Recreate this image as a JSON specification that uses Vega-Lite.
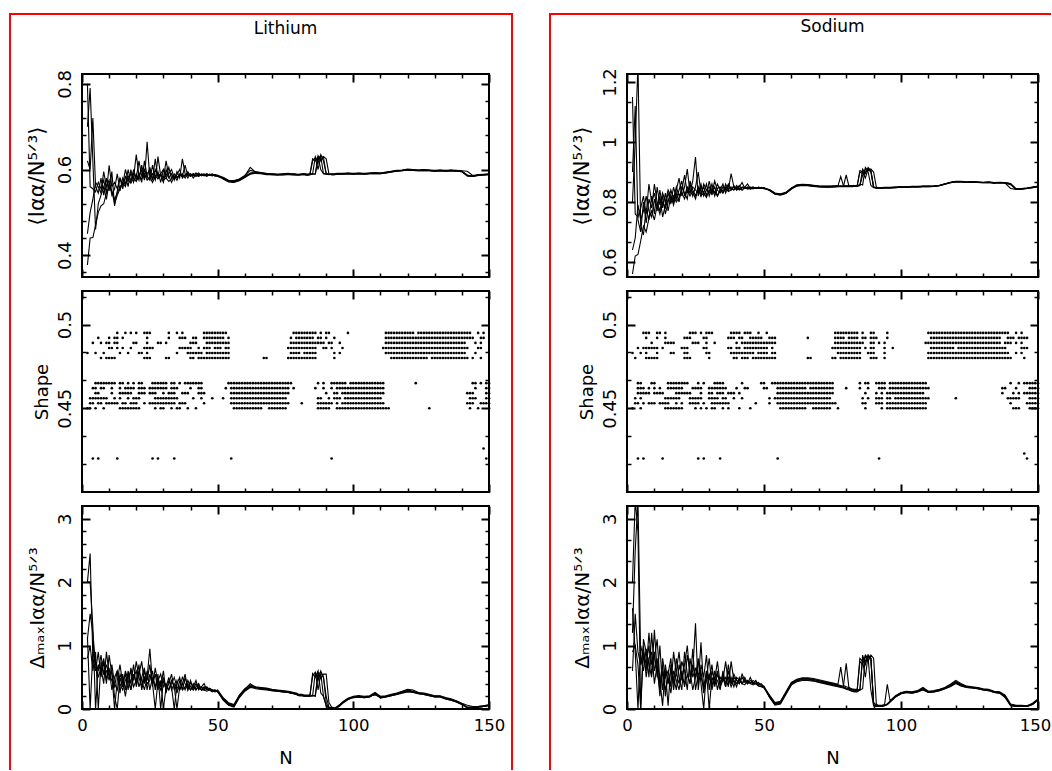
{
"$schema":"https://vega.github.io/schema/vega-lite/v6.json",
"padding":{"left":7,"top":11,"right":0,"bottom":0},
"background":"white",
"config":{
"font":"DejaVu Sans",
"view":{"stroke":"black","strokeWidth":2},
"axis":{"domain":false,"grid":false,"labels":false,"ticks":true,"tickSize":-8,"tickWidth":2,"tickColor":"black","labelFont":"DejaVu Sans","labelFontSize":18,"labelColor":"black","titleFont":"DejaVu Sans","titleFontSize":21,"titleFontWeight":"normal","titleColor":"black","labelFlush":false},
"axisLeft":{"labelAngle":-90,"labelAlign":"center","labelBaseline":"bottom","labelPadding":8},
"axisBottom":{"labelPadding":8,"labelFontSize":16.5},
"title":{"fontSize":17,"fontWeight":"normal","font":"DejaVu Sans","color":"black"}
},
"datasets":{
"li":[
{"N":2,"a":0.377,"b":0.8,"c":0.7,"d":0.62,"e":0.45,"p":1.14,"q":2,"r":2,"s":1.1,"t":0.8},
{"N":3,"a":0.44,"b":0.56,"c":0.79,"d":0.6,"e":0.5,"p":0,"q":2.45,"r":2,"s":1.5,"t":1},
{"N":4,"a":0.441,"b":0.555,"c":0.62,"d":0.72,"e":0.53,"p":0.9,"q":0.8,"r":1.3,"s":1.2,"t":0.6},
{"N":5,"a":0.47,"b":0.548,"c":0.46,"d":0.56,"e":0.57,"p":0.75,"q":0.6,"r":0,"s":0.7,"t":0.9},
{"N":6,"a":0.5,"b":0.57,"c":0.52,"d":0.545,"e":0.56,"p":0.6,"q":0.9,"r":0.7,"s":0.5,"t":0},
{"N":7,"a":0.515,"b":0.555,"c":0.54,"d":0.58,"e":0.545,"p":0.85,"q":0.5,"r":0.6,"s":0.65,"t":0.75},
{"N":8,"a":0.52,"b":0.575,"c":0.56,"d":0.54,"e":0.595,"p":0.55,"q":0.75,"r":0.8,"s":0.4,"t":0.55},
{"N":9,"a":0.545,"b":0.545,"c":0.53,"d":0.58,"e":0.56,"p":0.7,"q":0.4,"r":0.45,"s":0.9,"t":0.6},
{"N":10,"a":0.56,"b":0.61,"c":0.57,"d":0.55,"e":0.575,"p":0.5,"q":0.85,"r":0.65,"s":0.55,"t":0.45},
{"N":11,"a":0.548,"b":0.56,"c":0.55,"d":0.595,"e":0.54,"p":0.6,"q":0.55,"r":0.3,"s":0.45,"t":0.7},
{"N":12,"a":0.53,"b":0.57,"c":0.52,"d":0.515,"e":0.555,"p":0.2,"q":0,"r":0.5,"s":0.35,"t":0.4},
{"N":13,"a":0.545,"b":0.555,"c":0.54,"d":0.55,"e":0.59,"p":0,"q":0.45,"r":0.6,"s":0.6,"t":0.3},
{"N":14,"a":0.56,"b":0.58,"c":0.555,"d":0.58,"e":0.55,"p":0.5,"q":0.7,"r":0.25,"s":0.4,"t":0.55},
{"N":15,"a":0.565,"b":0.565,"c":0.57,"d":0.555,"e":0.58,"p":0.35,"q":0.4,"r":0.55,"s":0.3,"t":0.45},
{"N":16,"a":0.57,"b":0.6,"c":0.56,"d":0.585,"e":0.565,"p":0.6,"q":0.55,"r":0.3,"s":0.45,"t":0.2},
{"N":17,"a":0.575,"b":0.575,"c":0.585,"d":0.56,"e":0.6,"p":0.45,"q":0.3,"r":0.6,"s":0.55,"t":0.5},
{"N":18,"a":0.568,"b":0.59,"c":0.575,"d":0.6,"e":0.57,"p":0.3,"q":0.65,"r":0.4,"s":0.3,"t":0.6},
{"N":19,"a":0.58,"b":0.58,"c":0.59,"d":0.57,"e":0.6,"p":0.55,"q":0.45,"r":0.7,"s":0.5,"t":0.35},
{"N":20,"a":0.572,"b":0.635,"c":0.58,"d":0.59,"e":0.575,"p":0.4,"q":0.75,"r":0.35,"s":0.6,"t":0.45},
{"N":21,"a":0.585,"b":0.585,"c":0.62,"d":0.575,"e":0.59,"p":0.6,"q":0.5,"r":0.55,"s":0.35,"t":0.7},
{"N":22,"a":0.578,"b":0.6,"c":0.585,"d":0.61,"e":0.57,"p":0.45,"q":0.35,"r":0.75,"s":0.5,"t":0.3},
{"N":23,"a":0.59,"b":0.575,"c":0.6,"d":0.58,"e":0.62,"p":0.3,"q":0.6,"r":0.4,"s":0.65,"t":0.5},
{"N":24,"a":0.575,"b":0.665,"c":0.58,"d":0.59,"e":0.585,"p":0.5,"q":0.45,"r":0.6,"s":0.3,"t":0.4},
{"N":25,"a":0.582,"b":0.58,"c":0.605,"d":0.6,"e":0.575,"p":0.95,"q":0.7,"r":0.3,"s":0.55,"t":0.45},
{"N":26,"a":0.57,"b":0.59,"c":0.575,"d":0.575,"e":0.61,"p":0.4,"q":0.35,"r":0.5,"s":0.4,"t":0.6},
{"N":27,"a":0.585,"b":0.575,"c":0.6,"d":0.625,"e":0.58,"p":0.55,"q":0.65,"r":0.35,"s":0,"t":0.3},
{"N":28,"a":0.578,"b":0.63,"c":0.585,"d":0.58,"e":0.595,"p":0.3,"q":0.4,"r":0.55,"s":0.45,"t":0.5},
{"N":29,"a":0.588,"b":0.585,"c":0.59,"d":0.59,"e":0.57,"p":0.45,"q":0.3,"r":0,"s":0.55,"t":0.35},
{"N":30,"a":0.575,"b":0.57,"c":0.58,"d":0.6,"e":0.6,"p":0,"q":0.5,"r":0.45,"s":0.35,"t":0.6},
{"N":31,"a":0.58,"b":0.6,"c":0.62,"d":0.58,"e":0.585,"p":0.35,"q":0.3,"r":0.35,"s":0.4,"t":0.25},
{"N":32,"a":0.572,"b":0.58,"c":0.585,"d":0.59,"e":0.605,"p":0.5,"q":0.4,"r":0.3,"s":0.3,"t":0.45},
{"N":33,"a":0.578,"b":0.59,"c":0.57,"d":0.6,"e":0.58,"p":0.3,"q":0.55,"r":0.45,"s":0.4,"t":0.35},
{"N":34,"a":0.585,"b":0.575,"c":0.585,"d":0.58,"e":0.59,"p":0.4,"q":0.3,"r":0.35,"s":0.5,"t":0},
{"N":35,"a":0.58,"b":0.595,"c":0.575,"d":0.588,"e":0.583,"p":0.25,"q":0.45,"r":0,"s":0.35,"t":0.4},
{"N":36,"a":0.588,"b":0.58,"c":0.59,"d":0.6,"e":0.585,"p":0.45,"q":0.3,"r":0.35,"s":0.3,"t":0.5},
{"N":37,"a":0.583,"b":0.625,"c":0.585,"d":0.58,"e":0.59,"p":0.3,"q":0.4,"r":0.5,"s":0.4,"t":0.3},
{"N":38,"a":0.586,"b":0.59,"c":0.61,"d":0.588,"e":0.58,"p":0.5,"q":0.55,"r":0.4,"s":0.3,"t":0.35},
{"N":39,"a":0.59,"b":0.58,"c":0.585,"d":0.592,"e":0.595,"p":0.35,"q":0.3,"r":0.3,"s":0.45,"t":0.4},
{"N":40,"a":0.584,"b":0.59,"c":0.59,"d":0.585,"e":0.585,"p":0.3,"q":0.42,"r":0.45,"s":0.35,"t":0.3},
{"N":41,"a":0.588,"b":0.585,"c":0.58,"d":0.59,"e":0.59,"p":0.4,"q":0.35,"r":0.3,"s":0.3,"t":0.35},
{"N":42,"a":0.585,"b":0.592,"c":0.588,"d":0.584,"e":0.586,"p":0.3,"q":0.45,"r":0.35,"s":0.4,"t":0.3},
{"N":43,"a":0.587,"b":0.584,"c":0.592,"d":0.589,"e":0.584,"p":0.38,"q":0.3,"r":0.4,"s":0.32,"t":0.35},
{"N":44,"a":0.589,"b":0.588,"c":0.585,"d":0.587,"e":0.59,"p":0.3,"q":0.35,"r":0.3,"s":0.35,"t":0.3},
{"N":45,"a":0.586,"b":0.59,"c":0.588,"d":0.585,"e":0.587,"p":0.35,"q":0.4,"r":0.32,"s":0.3,"t":0.3},
{"N":46,"a":0.588,"b":0.585,"c":0.59,"d":0.59,"e":0.584,"p":0.32,"q":0.3,"r":0.35,"s":0.33,"t":0.28},
{"N":47,"a":0.586,"b":0.589,"c":0.586,"d":0.587,"e":0.588,"p":0.3,"q":0.33,"r":0.3,"s":0.32,"t":0.3},
{"N":48,"a":0.587,"b":0.586,"c":0.588,"d":0.585,"e":0.59,"p":0.28,"q":0.3,"r":0.3,"s":0.3,"t":0.27},
{"N":49,"a":0.585,"b":0.588,"c":0.585,"d":0.588,"e":0.586,"p":0.3,"q":0.28,"r":0.27,"s":0.3,"t":0.29},
{"N":50,"a":0.584,"b":0.586,"c":0.587,"d":0.585,"e":0.585,"p":0.27,"q":0.3,"r":0.28,"s":0.28,"t":0.27},
{"N":52,"a":0.58,"b":0.582,"c":0.579,"d":0.581,"e":0.578,"p":0.16,"q":0.18,"r":0.14,"s":0.17,"t":0.15},
{"N":54,"a":0.573,"b":0.575,"c":0.572,"d":0.574,"e":0.571,"p":0.08,"q":0.1,"r":0.06,"s":0.09,"t":0.07},
{"N":56,"a":0.572,"b":0.574,"c":0.571,"d":0.573,"e":0.57,"p":0.05,"q":0.07,"r":0.03,"s":0.06,"t":0.04},
{"N":58,"a":0.577,"b":0.578,"c":0.575,"d":0.576,"e":0.574,"p":0.2,"q":0.22,"r":0.18,"s":0.21,"t":0.19},
{"N":60,"a":0.584,"b":0.586,"c":0.582,"d":0.585,"e":0.581,"p":0.3,"q":0.32,"r":0.28,"s":0.31,"t":0.29},
{"N":62,"a":0.592,"b":0.598,"c":0.589,"d":0.605,"e":0.59,"p":0.36,"q":0.38,"r":0.34,"s":0.4,"t":0.35},
{"N":64,"a":0.594,"b":0.595,"c":0.592,"d":0.593,"e":0.591,"p":0.34,"q":0.35,"r":0.33,"s":0.34,"t":0.32},
{"N":66,"a":0.592,"b":0.593,"c":0.591,"d":0.592,"e":0.59,"p":0.33,"q":0.34,"r":0.32,"s":0.33,"t":0.31},
{"N":68,"a":0.59,"b":0.591,"c":0.589,"d":0.59,"e":0.588,"p":0.32,"q":0.33,"r":0.31,"s":0.32,"t":0.3},
{"N":70,"a":0.589,"b":0.59,"c":0.588,"d":0.59,"e":0.588,"p":0.3,"q":0.31,"r":0.29,"s":0.3,"t":0.29},
{"N":72,"a":0.588,"b":0.589,"c":0.587,"d":0.589,"e":0.587,"p":0.29,"q":0.3,"r":0.28,"s":0.29,"t":0.28},
{"N":74,"a":0.589,"b":0.59,"c":0.588,"d":0.589,"e":0.587,"p":0.28,"q":0.29,"r":0.27,"s":0.28,"t":0.27},
{"N":76,"a":0.59,"b":0.591,"c":0.589,"d":0.59,"e":0.588,"p":0.27,"q":0.28,"r":0.26,"s":0.27,"t":0.26},
{"N":77,"a":0.589,"b":0.59,"c":0.588,"d":0.589,"e":0.588,"p":0.26,"q":0.27,"r":0.25,"s":0.26,"t":0.25},
{"N":78,"a":0.589,"b":0.59,"c":0.588,"d":0.59,"e":0.587,"p":0.25,"q":0.26,"r":0.24,"s":0.25,"t":0.24},
{"N":79,"a":0.588,"b":0.589,"c":0.587,"d":0.589,"e":0.587,"p":0.24,"q":0.25,"r":0.23,"s":0.24,"t":0.23},
{"N":80,"a":0.588,"b":0.589,"c":0.587,"d":0.588,"e":0.587,"p":0.22,"q":0.23,"r":0.21,"s":0.22,"t":0.21},
{"N":81,"a":0.589,"b":0.59,"c":0.588,"d":0.589,"e":0.588,"p":0.22,"q":0.23,"r":0.21,"s":0.22,"t":0.21},
{"N":82,"a":0.589,"b":0.59,"c":0.588,"d":0.59,"e":0.588,"p":0.21,"q":0.22,"r":0.2,"s":0.21,"t":0.2},
{"N":83,"a":0.588,"b":0.589,"c":0.587,"d":0.589,"e":0.587,"p":0.21,"q":0.22,"r":0.2,"s":0.21,"t":0.2},
{"N":84,"a":0.589,"b":0.59,"c":0.588,"d":0.589,"e":0.588,"p":0.21,"q":0.22,"r":0.2,"s":0.21,"t":0.2},
{"N":85,"a":0.625,"b":0.59,"c":0.589,"d":0.62,"e":0.59,"p":0.56,"q":0.21,"r":0.21,"s":0.52,"t":0.21},
{"N":86,"a":0.62,"b":0.63,"c":0.59,"d":0.628,"e":0.589,"p":0.5,"q":0.58,"r":0.22,"s":0.58,"t":0.2},
{"N":87,"a":0.63,"b":0.615,"c":0.632,"d":0.6,"e":0.625,"p":0.6,"q":0.45,"r":0.57,"s":0.3,"t":0.55},
{"N":88,"a":0.6,"b":0.635,"c":0.62,"d":0.63,"e":0.632,"p":0.25,"q":0.6,"r":0.48,"s":0.56,"t":0.58},
{"N":89,"a":0.59,"b":0.62,"c":0.63,"d":0.59,"e":0.628,"p":0.2,"q":0.5,"r":0.55,"s":0.2,"t":0.5},
{"N":90,"a":0.589,"b":0.59,"c":0.625,"d":0.59,"e":0.59,"p":0.05,"q":0.2,"r":0.55,"s":0.05,"t":0.1},
{"N":91,"a":0.589,"b":0.589,"c":0.59,"d":0.588,"e":0.589,"p":0.02,"q":0.03,"r":0.1,"s":0.02,"t":0.02},
{"N":92,"a":0.589,"b":0.59,"c":0.588,"d":0.589,"e":0.588,"p":0.01,"q":0.02,"r":0.03,"s":0.01,"t":0.02},
{"N":93,"a":0.589,"b":0.59,"c":0.588,"d":0.589,"e":0.588,"p":0,"q":0.01,"r":0.02,"s":0.01,"t":0},
{"N":94,"a":0.59,"b":0.591,"c":0.589,"d":0.59,"e":0.589,"p":0.03,"q":0.04,"r":0.02,"s":0.03,"t":0.02},
{"N":95,"a":0.59,"b":0.591,"c":0.589,"d":0.59,"e":0.589,"p":0.06,"q":0.07,"r":0.05,"s":0.06,"t":0.05},
{"N":96,"a":0.59,"b":0.591,"c":0.589,"d":0.59,"e":0.589,"p":0.1,"q":0.11,"r":0.09,"s":0.1,"t":0.09},
{"N":98,"a":0.591,"b":0.592,"c":0.59,"d":0.591,"e":0.59,"p":0.16,"q":0.17,"r":0.15,"s":0.16,"t":0.15},
{"N":100,"a":0.59,"b":0.591,"c":0.589,"d":0.59,"e":0.589,"p":0.19,"q":0.2,"r":0.18,"s":0.19,"t":0.18},
{"N":102,"a":0.591,"b":0.592,"c":0.59,"d":0.591,"e":0.59,"p":0.2,"q":0.21,"r":0.19,"s":0.2,"t":0.19},
{"N":104,"a":0.59,"b":0.591,"c":0.589,"d":0.59,"e":0.589,"p":0.19,"q":0.2,"r":0.18,"s":0.19,"t":0.18},
{"N":106,"a":0.591,"b":0.592,"c":0.59,"d":0.591,"e":0.59,"p":0.2,"q":0.21,"r":0.19,"s":0.2,"t":0.19},
{"N":108,"a":0.592,"b":0.593,"c":0.591,"d":0.592,"e":0.591,"p":0.25,"q":0.26,"r":0.24,"s":0.22,"t":0.24},
{"N":110,"a":0.591,"b":0.592,"c":0.59,"d":0.591,"e":0.59,"p":0.18,"q":0.2,"r":0.17,"s":0.19,"t":0.18},
{"N":112,"a":0.593,"b":0.594,"c":0.592,"d":0.593,"e":0.592,"p":0.2,"q":0.21,"r":0.19,"s":0.2,"t":0.19},
{"N":114,"a":0.595,"b":0.596,"c":0.594,"d":0.595,"e":0.594,"p":0.22,"q":0.23,"r":0.21,"s":0.22,"t":0.21},
{"N":116,"a":0.597,"b":0.598,"c":0.596,"d":0.597,"e":0.596,"p":0.24,"q":0.25,"r":0.23,"s":0.24,"t":0.23},
{"N":118,"a":0.598,"b":0.599,"c":0.597,"d":0.598,"e":0.597,"p":0.27,"q":0.28,"r":0.25,"s":0.27,"t":0.26},
{"N":120,"a":0.6,"b":0.601,"c":0.599,"d":0.6,"e":0.599,"p":0.3,"q":0.31,"r":0.27,"s":0.29,"t":0.28},
{"N":122,"a":0.599,"b":0.6,"c":0.598,"d":0.599,"e":0.598,"p":0.28,"q":0.3,"r":0.26,"s":0.27,"t":0.27},
{"N":124,"a":0.598,"b":0.599,"c":0.597,"d":0.598,"e":0.597,"p":0.25,"q":0.26,"r":0.24,"s":0.25,"t":0.24},
{"N":126,"a":0.599,"b":0.6,"c":0.598,"d":0.599,"e":0.598,"p":0.24,"q":0.25,"r":0.23,"s":0.24,"t":0.23},
{"N":128,"a":0.598,"b":0.599,"c":0.597,"d":0.598,"e":0.597,"p":0.22,"q":0.23,"r":0.21,"s":0.22,"t":0.21},
{"N":130,"a":0.597,"b":0.598,"c":0.596,"d":0.597,"e":0.596,"p":0.2,"q":0.21,"r":0.19,"s":0.2,"t":0.19},
{"N":132,"a":0.598,"b":0.599,"c":0.597,"d":0.598,"e":0.597,"p":0.2,"q":0.21,"r":0.19,"s":0.2,"t":0.19},
{"N":134,"a":0.597,"b":0.598,"c":0.596,"d":0.597,"e":0.596,"p":0.17,"q":0.18,"r":0.16,"s":0.17,"t":0.16},
{"N":136,"a":0.598,"b":0.599,"c":0.597,"d":0.598,"e":0.597,"p":0.15,"q":0.16,"r":0.14,"s":0.15,"t":0.14},
{"N":138,"a":0.597,"b":0.598,"c":0.596,"d":0.597,"e":0.596,"p":0.12,"q":0.13,"r":0.11,"s":0.12,"t":0.11},
{"N":140,"a":0.596,"b":0.597,"c":0.595,"d":0.596,"e":0.595,"p":0.08,"q":0.09,"r":0.07,"s":0.08,"t":0.07},
{"N":142,"a":0.586,"b":0.596,"c":0.585,"d":0.587,"e":0.585,"p":0.02,"q":0.06,"r":0.02,"s":0.03,"t":0.02},
{"N":144,"a":0.585,"b":0.586,"c":0.584,"d":0.585,"e":0.584,"p":0.03,"q":0.04,"r":0.02,"s":0.03,"t":0.02},
{"N":146,"a":0.587,"b":0.588,"c":0.586,"d":0.587,"e":0.586,"p":0.03,"q":0.04,"r":0.03,"s":0.04,"t":0.03},
{"N":148,"a":0.588,"b":0.589,"c":0.587,"d":0.588,"e":0.587,"p":0.04,"q":0.05,"r":0.04,"s":0.05,"t":0.04},
{"N":150,"a":0.589,"b":0.59,"c":0.588,"d":0.589,"e":0.588,"p":0.06,"q":0.07,"r":0.05,"s":0.06,"t":0.06}
],
"na":[
{"N":2,"a":0.56,"b":1.15,"c":0.9,"d":0.8,"e":0.64,"p":1.59,"q":2,"r":1.2,"s":0.9,"t":0.6},
{"N":3,"a":0.62,"b":0.76,"c":1.12,"d":1,"e":0.68,"p":0.9,"q":3.3,"r":2.5,"s":1,"t":1.5},
{"N":4,"a":0.625,"b":0.75,"c":0.74,"d":1.26,"e":0.79,"p":0,"q":2.79,"r":3.3,"s":0.7,"t":0.9},
{"N":5,"a":0.67,"b":0.78,"c":0.7,"d":0.72,"e":0.74,"p":1,"q":0,"r":0.8,"s":0,"t":0.7},
{"N":6,"a":0.72,"b":0.82,"c":0.8,"d":0.69,"e":0.77,"p":0.8,"q":1.1,"r":0.6,"s":0.9,"t":1},
{"N":7,"a":0.7,"b":0.76,"c":0.73,"d":0.78,"e":0.82,"p":0.6,"q":0.9,"r":0.95,"s":0.7,"t":0.5},
{"N":8,"a":0.745,"b":0.86,"c":0.81,"d":0.74,"e":0.77,"p":1.2,"q":0.5,"r":0.7,"s":1,"t":0.8},
{"N":9,"a":0.77,"b":0.8,"c":0.78,"d":0.82,"e":0.75,"p":0.7,"q":1.2,"r":0.5,"s":0.55,"t":0.9},
{"N":10,"a":0.74,"b":0.83,"c":0.86,"d":0.76,"e":0.81,"p":0.9,"q":0.6,"r":1.25,"s":0.8,"t":0.4},
{"N":11,"a":0.79,"b":0.78,"c":0.8,"d":0.85,"e":0.77,"p":0.5,"q":0.8,"r":0.6,"s":1.1,"t":0.7},
{"N":12,"a":0.76,"b":0.82,"c":0.77,"d":0.79,"e":0.84,"p":1,"q":0.4,"r":0.3,"s":0.45,"t":0.2},
{"N":13,"a":0.8,"b":0.75,"c":0.82,"d":0.83,"e":0.78,"p":0.3,"q":0.7,"r":0.8,"s":0.05,"t":0.6},
{"N":14,"a":0.78,"b":0.79,"c":0.76,"d":0.8,"e":0.83,"p":0.6,"q":0.2,"r":0.5,"s":0.7,"t":0.3},
{"N":15,"a":0.81,"b":0.83,"c":0.8,"d":0.84,"e":0.77,"p":0.05,"q":0.55,"r":0.6,"s":0.4,"t":0.5},
{"N":16,"a":0.795,"b":0.8,"c":0.84,"d":0.82,"e":0.82,"p":0.7,"q":0.8,"r":0.35,"s":0.6,"t":0.25},
{"N":17,"a":0.82,"b":0.85,"c":0.81,"d":0.8,"e":0.79,"p":0.4,"q":0.3,"r":0.9,"s":0.5,"t":0.6},
{"N":18,"a":0.8,"b":0.81,"c":0.85,"d":0.84,"e":0.83,"p":0.8,"q":0.6,"r":0.55,"s":0.3,"t":0.45},
{"N":19,"a":0.815,"b":0.84,"c":0.82,"d":0.88,"e":0.8,"p":0.5,"q":0.9,"r":0.4,"s":0.7,"t":0.3},
{"N":20,"a":0.83,"b":0.87,"c":0.84,"d":0.82,"e":0.85,"p":0.3,"q":0.45,"r":0.75,"s":0.5,"t":0.6},
{"N":21,"a":0.81,"b":0.82,"c":0.89,"d":0.85,"e":0.83,"p":0.9,"q":0.7,"r":0.6,"s":0.4,"t":0.35},
{"N":22,"a":0.84,"b":0.85,"c":0.83,"d":0.91,"e":0.81,"p":0.55,"q":1,"r":0.3,"s":0.85,"t":0.55},
{"N":23,"a":0.82,"b":0.83,"c":0.86,"d":0.83,"e":0.87,"p":0.4,"q":0.5,"r":0.8,"s":0.6,"t":0.4},
{"N":24,"a":0.835,"b":0.87,"c":0.82,"d":0.85,"e":0.84,"p":0.7,"q":0.6,"r":0.5,"s":0.3,"t":0.95},
{"N":25,"a":0.81,"b":0.95,"c":0.85,"d":0.84,"e":0.82,"p":0.5,"q":1.35,"r":0.65,"s":0.5,"t":0.3},
{"N":26,"a":0.845,"b":0.82,"c":0.9,"d":0.83,"e":0.85,"p":0.8,"q":0.3,"r":0.4,"s":0.75,"t":0.55},
{"N":27,"a":0.82,"b":0.85,"c":0.83,"d":0.86,"e":0.82,"p":0.4,"q":0.7,"r":1.05,"s":0.5,"t":0.6},
{"N":28,"a":0.83,"b":0.83,"c":0.85,"d":0.82,"e":0.86,"p":0,"q":0.5,"r":0.3,"s":0.35,"t":0.25},
{"N":29,"a":0.815,"b":0.86,"c":0.82,"d":0.84,"e":0.84,"p":0.6,"q":0.85,"r":0.5,"s":0.6,"t":0.45},
{"N":30,"a":0.84,"b":0.82,"c":0.87,"d":0.85,"e":0.83,"p":0.45,"q":0.3,"r":0.8,"s":0,"t":0.55},
{"N":31,"a":0.825,"b":0.845,"c":0.83,"d":0.83,"e":0.86,"p":0.7,"q":0.6,"r":0.35,"s":0.5,"t":0.3},
{"N":32,"a":0.835,"b":0.83,"c":0.85,"d":0.87,"e":0.82,"p":0.35,"q":0.45,"r":0.6,"s":0.4,"t":0.5},
{"N":33,"a":0.82,"b":0.86,"c":0.82,"d":0.84,"e":0.845,"p":0.55,"q":0.75,"r":0.3,"s":0.6,"t":0.45},
{"N":34,"a":0.84,"b":0.84,"c":0.84,"d":0.83,"e":0.85,"p":0.4,"q":0.4,"r":0.5,"s":0.35,"t":0.3},
{"N":35,"a":0.83,"b":0.83,"c":0.86,"d":0.85,"e":0.835,"p":0.5,"q":0.55,"r":0.45,"s":0.45,"t":0.6},
{"N":36,"a":0.845,"b":0.86,"c":0.83,"d":0.84,"e":0.85,"p":0.35,"q":0.35,"r":0.75,"s":0.5,"t":0.4},
{"N":37,"a":0.835,"b":0.84,"c":0.855,"d":0.86,"e":0.84,"p":0.6,"q":0.7,"r":0.4,"s":0.35,"t":0.5},
{"N":38,"a":0.84,"b":0.895,"c":0.84,"d":0.845,"e":0.85,"p":0.4,"q":0.4,"r":0.5,"s":0.75,"t":0.35},
{"N":39,"a":0.85,"b":0.85,"c":0.855,"d":0.84,"e":0.84,"p":0.5,"q":0.55,"r":0.35,"s":0.45,"t":0.45},
{"N":40,"a":0.84,"b":0.845,"c":0.84,"d":0.855,"e":0.85,"p":0.45,"q":0.45,"r":0.5,"s":0.35,"t":0.4},
{"N":41,"a":0.845,"b":0.855,"c":0.85,"d":0.843,"e":0.84,"p":0.4,"q":0.4,"r":0.45,"s":0.5,"t":0.48},
{"N":42,"a":0.84,"b":0.84,"c":0.865,"d":0.85,"e":0.848,"p":0.5,"q":0.55,"r":0.4,"s":0.4,"t":0.4},
{"N":43,"a":0.848,"b":0.85,"c":0.845,"d":0.845,"e":0.85,"p":0.42,"q":0.45,"r":0.5,"s":0.45,"t":0.38},
{"N":44,"a":0.843,"b":0.86,"c":0.85,"d":0.848,"e":0.845,"p":0.45,"q":0.4,"r":0.4,"s":0.4,"t":0.45},
{"N":45,"a":0.846,"b":0.845,"c":0.842,"d":0.85,"e":0.848,"p":0.4,"q":0.5,"r":0.45,"s":0.42,"t":0.4},
{"N":46,"a":0.844,"b":0.85,"c":0.848,"d":0.845,"e":0.85,"p":0.45,"q":0.4,"r":0.42,"s":0.4,"t":0.38},
{"N":47,"a":0.848,"b":0.846,"c":0.845,"d":0.847,"e":0.845,"p":0.42,"q":0.45,"r":0.4,"s":0.4,"t":0.4},
{"N":48,"a":0.845,"b":0.849,"c":0.85,"d":0.845,"e":0.847,"p":0.4,"q":0.38,"r":0.42,"s":0.37,"t":0.36},
{"N":49,"a":0.846,"b":0.847,"c":0.845,"d":0.849,"e":0.845,"p":0.38,"q":0.4,"r":0.37,"s":0.36,"t":0.35},
{"N":50,"a":0.844,"b":0.846,"c":0.847,"d":0.845,"e":0.848,"p":0.35,"q":0.35,"r":0.36,"s":0.34,"t":0.33},
{"N":52,"a":0.84,"b":0.842,"c":0.839,"d":0.841,"e":0.838,"p":0.2,"q":0.22,"r":0.18,"s":0.21,"t":0.19},
{"N":54,"a":0.828,"b":0.83,"c":0.827,"d":0.829,"e":0.826,"p":0.08,"q":0.1,"r":0.06,"s":0.09,"t":0.07},
{"N":56,"a":0.825,"b":0.827,"c":0.824,"d":0.826,"e":0.823,"p":0.1,"q":0.12,"r":0.08,"s":0.11,"t":0.09},
{"N":58,"a":0.83,"b":0.832,"c":0.829,"d":0.831,"e":0.828,"p":0.25,"q":0.27,"r":0.23,"s":0.26,"t":0.24},
{"N":60,"a":0.845,"b":0.847,"c":0.844,"d":0.846,"e":0.843,"p":0.4,"q":0.42,"r":0.38,"s":0.41,"t":0.39},
{"N":62,"a":0.855,"b":0.857,"c":0.854,"d":0.856,"e":0.853,"p":0.45,"q":0.47,"r":0.43,"s":0.46,"t":0.44},
{"N":64,"a":0.857,"b":0.859,"c":0.856,"d":0.858,"e":0.855,"p":0.47,"q":0.49,"r":0.45,"s":0.48,"t":0.46},
{"N":66,"a":0.856,"b":0.858,"c":0.855,"d":0.857,"e":0.854,"p":0.47,"q":0.49,"r":0.45,"s":0.48,"t":0.46},
{"N":68,"a":0.854,"b":0.856,"c":0.853,"d":0.855,"e":0.852,"p":0.46,"q":0.48,"r":0.44,"s":0.47,"t":0.45},
{"N":70,"a":0.852,"b":0.854,"c":0.851,"d":0.853,"e":0.85,"p":0.44,"q":0.46,"r":0.42,"s":0.45,"t":0.43},
{"N":72,"a":0.851,"b":0.853,"c":0.85,"d":0.852,"e":0.849,"p":0.42,"q":0.44,"r":0.4,"s":0.43,"t":0.41},
{"N":74,"a":0.851,"b":0.853,"c":0.85,"d":0.852,"e":0.849,"p":0.4,"q":0.42,"r":0.38,"s":0.41,"t":0.39},
{"N":76,"a":0.852,"b":0.854,"c":0.851,"d":0.853,"e":0.85,"p":0.38,"q":0.4,"r":0.36,"s":0.39,"t":0.37},
{"N":77,"a":0.853,"b":0.854,"c":0.852,"d":0.853,"e":0.851,"p":0.37,"q":0.39,"r":0.35,"s":0.38,"t":0.36},
{"N":78,"a":0.853,"b":0.885,"c":0.852,"d":0.853,"e":0.851,"p":0.36,"q":0.66,"r":0.34,"s":0.37,"t":0.35},
{"N":79,"a":0.853,"b":0.854,"c":0.852,"d":0.853,"e":0.851,"p":0.35,"q":0.37,"r":0.33,"s":0.36,"t":0.34},
{"N":80,"a":0.853,"b":0.854,"c":0.852,"d":0.89,"e":0.851,"p":0.33,"q":0.35,"r":0.31,"s":0.72,"t":0.32},
{"N":81,"a":0.853,"b":0.854,"c":0.852,"d":0.853,"e":0.851,"p":0.32,"q":0.34,"r":0.3,"s":0.33,"t":0.31},
{"N":82,"a":0.853,"b":0.855,"c":0.852,"d":0.854,"e":0.851,"p":0.3,"q":0.32,"r":0.28,"s":0.31,"t":0.29},
{"N":83,"a":0.854,"b":0.855,"c":0.853,"d":0.854,"e":0.852,"p":0.29,"q":0.31,"r":0.27,"s":0.3,"t":0.28},
{"N":84,"a":0.854,"b":0.855,"c":0.853,"d":0.854,"e":0.852,"p":0.29,"q":0.31,"r":0.27,"s":0.3,"t":0.28},
{"N":85,"a":0.9,"b":0.855,"c":0.86,"d":0.905,"e":0.855,"p":0.75,"q":0.3,"r":0.3,"s":0.8,"t":0.3},
{"N":86,"a":0.895,"b":0.91,"c":0.857,"d":0.9,"e":0.89,"p":0.7,"q":0.85,"r":0.32,"s":0.75,"t":0.8},
{"N":87,"a":0.91,"b":0.895,"c":0.915,"d":0.88,"e":0.9,"p":0.85,"q":0.7,"r":0.85,"s":0.5,"t":0.75},
{"N":88,"a":0.9,"b":0.915,"c":0.905,"d":0.91,"e":0.912,"p":0.8,"q":0.85,"r":0.75,"s":0.85,"t":0.82},
{"N":89,"a":0.855,"b":0.905,"c":0.91,"d":0.9,"e":0.905,"p":0.3,"q":0.8,"r":0.85,"s":0.8,"t":0.8},
{"N":90,"a":0.848,"b":0.85,"c":0.9,"d":0.85,"e":0.85,"p":0.05,"q":0.1,"r":0.8,"s":0.1,"t":0.06},
{"N":91,"a":0.847,"b":0.848,"c":0.85,"d":0.847,"e":0.846,"p":0.05,"q":0.06,"r":0.08,"s":0.05,"t":0.04},
{"N":92,"a":0.847,"b":0.848,"c":0.846,"d":0.847,"e":0.846,"p":0.05,"q":0.06,"r":0.04,"s":0.05,"t":0.04},
{"N":93,"a":0.847,"b":0.848,"c":0.846,"d":0.847,"e":0.846,"p":0.05,"q":0.06,"r":0.04,"s":0.05,"t":0.04},
{"N":94,"a":0.848,"b":0.849,"c":0.847,"d":0.848,"e":0.847,"p":0.06,"q":0.07,"r":0.05,"s":0.06,"t":0.05},
{"N":95,"a":0.848,"b":0.849,"c":0.847,"d":0.848,"e":0.847,"p":0.08,"q":0.39,"r":0.07,"s":0.08,"t":0.07},
{"N":96,"a":0.848,"b":0.849,"c":0.847,"d":0.848,"e":0.847,"p":0.12,"q":0.13,"r":0.11,"s":0.12,"t":0.11},
{"N":98,"a":0.849,"b":0.85,"c":0.848,"d":0.849,"e":0.848,"p":0.2,"q":0.21,"r":0.19,"s":0.2,"t":0.19},
{"N":100,"a":0.85,"b":0.851,"c":0.849,"d":0.85,"e":0.849,"p":0.25,"q":0.26,"r":0.24,"s":0.25,"t":0.24},
{"N":102,"a":0.85,"b":0.851,"c":0.849,"d":0.85,"e":0.849,"p":0.27,"q":0.28,"r":0.26,"s":0.27,"t":0.26},
{"N":104,"a":0.851,"b":0.852,"c":0.85,"d":0.851,"e":0.85,"p":0.26,"q":0.27,"r":0.25,"s":0.26,"t":0.25},
{"N":106,"a":0.851,"b":0.852,"c":0.85,"d":0.851,"e":0.85,"p":0.28,"q":0.29,"r":0.27,"s":0.28,"t":0.27},
{"N":108,"a":0.852,"b":0.853,"c":0.851,"d":0.852,"e":0.851,"p":0.33,"q":0.34,"r":0.3,"s":0.32,"t":0.31},
{"N":110,"a":0.852,"b":0.853,"c":0.851,"d":0.852,"e":0.851,"p":0.27,"q":0.28,"r":0.26,"s":0.27,"t":0.26},
{"N":112,"a":0.853,"b":0.854,"c":0.852,"d":0.853,"e":0.852,"p":0.28,"q":0.29,"r":0.27,"s":0.28,"t":0.27},
{"N":114,"a":0.855,"b":0.856,"c":0.854,"d":0.855,"e":0.854,"p":0.3,"q":0.31,"r":0.29,"s":0.3,"t":0.29},
{"N":116,"a":0.86,"b":0.861,"c":0.859,"d":0.86,"e":0.859,"p":0.33,"q":0.34,"r":0.32,"s":0.33,"t":0.32},
{"N":118,"a":0.865,"b":0.866,"c":0.864,"d":0.865,"e":0.864,"p":0.37,"q":0.39,"r":0.35,"s":0.38,"t":0.36},
{"N":120,"a":0.868,"b":0.869,"c":0.867,"d":0.868,"e":0.867,"p":0.42,"q":0.45,"r":0.4,"s":0.43,"t":0.41},
{"N":122,"a":0.868,"b":0.869,"c":0.867,"d":0.868,"e":0.867,"p":0.38,"q":0.4,"r":0.36,"s":0.39,"t":0.37},
{"N":124,"a":0.866,"b":0.867,"c":0.865,"d":0.866,"e":0.865,"p":0.35,"q":0.36,"r":0.34,"s":0.35,"t":0.34},
{"N":126,"a":0.867,"b":0.868,"c":0.866,"d":0.867,"e":0.866,"p":0.34,"q":0.35,"r":0.33,"s":0.34,"t":0.33},
{"N":128,"a":0.866,"b":0.867,"c":0.865,"d":0.866,"e":0.865,"p":0.33,"q":0.34,"r":0.32,"s":0.33,"t":0.32},
{"N":130,"a":0.865,"b":0.866,"c":0.864,"d":0.865,"e":0.864,"p":0.31,"q":0.32,"r":0.3,"s":0.31,"t":0.3},
{"N":132,"a":0.866,"b":0.867,"c":0.865,"d":0.866,"e":0.865,"p":0.3,"q":0.31,"r":0.29,"s":0.3,"t":0.29},
{"N":134,"a":0.864,"b":0.865,"c":0.863,"d":0.864,"e":0.863,"p":0.27,"q":0.28,"r":0.26,"s":0.27,"t":0.26},
{"N":136,"a":0.865,"b":0.866,"c":0.864,"d":0.865,"e":0.864,"p":0.26,"q":0.27,"r":0.25,"s":0.26,"t":0.25},
{"N":138,"a":0.864,"b":0.865,"c":0.863,"d":0.864,"e":0.863,"p":0.2,"q":0.22,"r":0.18,"s":0.21,"t":0.19},
{"N":140,"a":0.86,"b":0.862,"c":0.845,"d":0.861,"e":0.858,"p":0.06,"q":0.08,"r":0.05,"s":0.07,"t":0.06},
{"N":142,"a":0.843,"b":0.844,"c":0.842,"d":0.843,"e":0.842,"p":0.05,"q":0.06,"r":0.04,"s":0.05,"t":0.04},
{"N":144,"a":0.844,"b":0.845,"c":0.843,"d":0.844,"e":0.843,"p":0.05,"q":0.06,"r":0.04,"s":0.05,"t":0.04},
{"N":146,"a":0.846,"b":0.847,"c":0.845,"d":0.846,"e":0.845,"p":0.04,"q":0.05,"r":0.04,"s":0.05,"t":0.04},
{"N":148,"a":0.849,"b":0.85,"c":0.848,"d":0.849,"e":0.848,"p":0.08,"q":0.09,"r":0.07,"s":0.08,"t":0.07},
{"N":150,"a":0.852,"b":0.853,"c":0.851,"d":0.852,"e":0.851,"p":0.15,"q":0.16,"r":0.14,"s":0.15,"t":0.14}
],
"lid":[
{"N":2,"e":0.483,"f":0.45},
{"N":3,"d":0.456,"e":0.453,"f":0.45},
{"N":4,"b":0.462,"c":0.489,"d":0.456,"e":0.453,"f":0.42},
{"N":5,"a":0.465,"b":0.462,"c":0.459,"d":0.456,"e":0.483,"f":0.45},
{"N":6,"a":0.465,"b":0.492,"c":0.459,"d":0.456,"e":0.453,"f":0.42},
{"N":7,"a":0.465,"b":0.462,"c":0.489,"d":0.456,"e":0.453,"f":0.48},
{"N":8,"a":0.465,"b":0.462,"d":0.456,"e":0.483,"f":0.45},
{"N":9,"a":0.465,"c":0.489,"d":0.456,"e":0.453,"f":0.48},
{"N":10,"a":0.465,"b":0.492,"c":0.489,"d":0.486,"e":0.453,"f":0.48},
{"N":11,"a":0.465,"b":0.462,"c":0.459,"d":0.486,"e":0.453,"f":0.48},
{"N":12,"a":0.465,"b":0.492,"c":0.489,"d":0.456,"e":0.453,"f":0.48},
{"N":13,"a":0.495,"b":0.492,"c":0.489,"d":0.486,"e":0.453,"f":0.42},
{"N":14,"a":0.465,"b":0.462,"c":0.459,"d":0.456,"e":0.483,"f":0.45},
{"N":15,"a":0.465,"b":0.492,"c":0.459,"d":0.486,"e":0.453,"f":0.45},
{"N":16,"a":0.495,"b":0.462,"c":0.459,"e":0.453,"f":0.45},
{"N":17,"a":0.465,"b":0.462,"c":0.459,"d":0.456,"e":0.483,"f":0.45},
{"N":18,"a":0.495,"b":0.462,"c":0.459,"d":0.486,"e":0.453,"f":0.45},
{"N":19,"a":0.465,"b":0.462,"c":0.489,"d":0.456,"e":0.453,"f":0.45},
{"N":20,"a":0.495,"c":0.489,"d":0.456,"e":0.453,"f":0.45},
{"N":21,"a":0.465,"b":0.462,"c":0.459,"d":0.456,"e":0.483,"f":0.45},
{"N":22,"a":0.465,"b":0.462,"c":0.459,"e":0.483},
{"N":23,"a":0.495,"b":0.462,"c":0.459,"d":0.486,"e":0.453,"f":0.48},
{"N":24,"a":0.495,"b":0.492,"c":0.489,"d":0.486,"e":0.483,"f":0.48},
{"N":25,"a":0.495,"b":0.462,"c":0.459,"d":0.486,"e":0.453,"f":0.48},
{"N":26,"a":0.465,"b":0.462,"c":0.459,"d":0.486,"e":0.453,"f":0.42},
{"N":27,"a":0.465,"b":0.462,"c":0.459,"d":0.456,"e":0.453,"f":0.45},
{"N":28,"a":0.465,"b":0.462,"c":0.489,"d":0.456,"e":0.453,"f":0.42},
{"N":29,"a":0.465,"b":0.462,"c":0.489,"d":0.456,"e":0.453,"f":0.45},
{"N":30,"a":0.465,"b":0.462,"c":0.459,"d":0.456,"e":0.453,"f":0.45},
{"N":31,"a":0.465,"b":0.462,"c":0.489,"d":0.456,"e":0.453,"f":0.48},
{"N":32,"a":0.495,"b":0.492,"c":0.459,"d":0.456,"e":0.453,"f":0.48},
{"N":33,"a":0.465,"b":0.462,"c":0.459,"d":0.456,"e":0.453,"f":0.45},
{"N":34,"a":0.465,"b":0.462,"c":0.459,"d":0.456,"e":0.453,"f":0.42},
{"N":35,"a":0.495,"b":0.462,"d":0.456,"e":0.483,"f":0.45},
{"N":36,"a":0.465,"b":0.492,"d":0.486,"e":0.453,"f":0.45},
{"N":37,"a":0.495,"b":0.492,"c":0.459,"d":0.486,"e":0.453},
{"N":38,"a":0.465,"b":0.492,"c":0.459,"d":0.486,"e":0.453},
{"N":39,"a":0.465,"c":0.459,"d":0.486,"e":0.483,"f":0.45},
{"N":40,"a":0.465,"b":0.462,"c":0.489,"d":0.486,"e":0.483,"f":0.48},
{"N":41,"a":0.465,"b":0.492,"c":0.489,"d":0.456,"e":0.483,"f":0.48},
{"N":42,"a":0.465,"b":0.492,"c":0.489,"e":0.483,"f":0.45},
{"N":43,"a":0.465,"b":0.462,"c":0.459,"d":0.486,"e":0.483,"f":0.48},
{"N":44,"a":0.465,"b":0.462,"c":0.459,"d":0.456,"e":0.483,"f":0.48},
{"N":45,"a":0.495,"b":0.492,"c":0.459,"d":0.486,"e":0.453,"f":0.48},
{"N":46,"a":0.495,"b":0.492,"c":0.489,"d":0.486,"e":0.483,"f":0.48},
{"N":47,"a":0.495,"b":0.492,"c":0.489,"d":0.486,"e":0.483,"f":0.48},
{"N":48,"a":0.495,"b":0.492,"c":0.489,"d":0.456,"e":0.483,"f":0.48},
{"N":49,"a":0.495,"b":0.492,"c":0.489,"d":0.486,"e":0.483,"f":0.48},
{"N":50,"a":0.495,"b":0.492,"c":0.489,"d":0.486,"e":0.483,"f":0.48},
{"N":51,"a":0.495,"b":0.492,"c":0.489,"d":0.486,"e":0.483,"f":0.48},
{"N":52,"a":0.495,"b":0.492,"c":0.489,"d":0.456,"e":0.483,"f":0.48},
{"N":53,"a":0.495,"b":0.462,"c":0.489,"d":0.486,"e":0.483,"f":0.48},
{"N":54,"a":0.465,"b":0.492,"c":0.489,"d":0.486,"e":0.483,"f":0.48},
{"N":55,"a":0.465,"b":0.462,"c":0.459,"d":0.456,"e":0.453,"f":0.42},
{"N":56,"a":0.465,"b":0.462,"c":0.459,"d":0.456,"e":0.453,"f":0.45},
{"N":57,"a":0.465,"b":0.462,"c":0.459,"d":0.456,"e":0.453,"f":0.45},
{"N":58,"a":0.465,"b":0.462,"c":0.459,"d":0.456,"e":0.453,"f":0.45},
{"N":59,"a":0.465,"b":0.462,"c":0.459,"d":0.456,"e":0.453,"f":0.45},
{"N":60,"a":0.465,"b":0.462,"c":0.459,"d":0.456,"e":0.453,"f":0.45},
{"N":61,"a":0.465,"b":0.462,"c":0.459,"d":0.456,"e":0.453,"f":0.45},
{"N":62,"a":0.465,"b":0.462,"c":0.459,"d":0.456,"e":0.453,"f":0.45},
{"N":63,"a":0.465,"b":0.462,"c":0.459,"d":0.456,"e":0.453,"f":0.45},
{"N":64,"a":0.465,"b":0.462,"c":0.459,"d":0.456,"e":0.453,"f":0.45},
{"N":65,"a":0.465,"b":0.462,"c":0.459,"d":0.456,"e":0.453,"f":0.45},
{"N":66,"a":0.465,"b":0.462,"c":0.459,"d":0.456,"e":0.453,"f":0.45},
{"N":67,"a":0.465,"b":0.462,"c":0.459,"d":0.456,"e":0.453,"f":0.48},
{"N":68,"a":0.465,"b":0.462,"c":0.459,"d":0.456,"e":0.453,"f":0.48},
{"N":69,"a":0.465,"b":0.462,"c":0.459,"d":0.456,"e":0.453,"f":0.45},
{"N":70,"a":0.465,"b":0.462,"c":0.459,"d":0.456,"e":0.453,"f":0.45},
{"N":71,"a":0.465,"b":0.462,"c":0.459,"d":0.456,"e":0.453,"f":0.45},
{"N":72,"a":0.465,"b":0.462,"c":0.459,"d":0.456,"e":0.453,"f":0.45},
{"N":73,"a":0.465,"b":0.462,"c":0.459,"d":0.456,"e":0.453,"f":0.45},
{"N":74,"a":0.465,"b":0.462,"c":0.459,"d":0.456,"e":0.453,"f":0.45},
{"N":75,"a":0.465,"b":0.462,"c":0.459,"d":0.456,"e":0.453,"f":0.45},
{"N":76,"a":0.465,"b":0.462,"c":0.459,"d":0.486,"e":0.453,"f":0.48},
{"N":77,"a":0.465,"b":0.492,"c":0.489,"d":0.486,"e":0.483,"f":0.48},
{"N":78,"a":0.495,"b":0.462,"c":0.489,"d":0.486,"e":0.483,"f":0.48},
{"N":79,"a":0.495,"b":0.492,"c":0.489,"d":0.486,"e":0.483,"f":0.48},
{"N":80,"a":0.495,"b":0.492,"c":0.489,"d":0.486,"e":0.483,"f":0.48},
{"N":81,"a":0.495,"b":0.492,"c":0.489,"d":0.486,"e":0.453,"f":0.48},
{"N":82,"a":0.495,"b":0.492,"c":0.489,"d":0.486,"e":0.483,"f":0.48},
{"N":83,"a":0.495,"b":0.492,"c":0.489,"d":0.486,"e":0.483,"f":0.48},
{"N":84,"a":0.495,"b":0.492,"c":0.489,"d":0.486,"e":0.483,"f":0.48},
{"N":85,"a":0.495,"b":0.492,"c":0.489,"d":0.486,"e":0.483,"f":0.48},
{"N":86,"a":0.495,"b":0.462,"c":0.489,"d":0.486,"e":0.483,"f":0.48},
{"N":87,"a":0.465,"b":0.492,"c":0.489,"d":0.456,"e":0.453,"f":0.45},
{"N":88,"a":0.495,"b":0.492,"c":0.489,"d":0.456,"e":0.453,"f":0.45},
{"N":89,"a":0.465,"b":0.462,"c":0.489,"d":0.486,"e":0.453,"f":0.45},
{"N":90,"a":0.495,"b":0.492,"c":0.459,"d":0.486,"e":0.453,"f":0.45},
{"N":91,"a":0.495,"c":0.489,"d":0.456,"e":0.453,"f":0.45},
{"N":92,"a":0.465,"b":0.462,"c":0.489,"d":0.486,"e":0.453,"f":0.42},
{"N":93,"a":0.465,"b":0.492,"c":0.459,"d":0.456,"e":0.483,"f":0.48},
{"N":94,"a":0.465,"b":0.462,"c":0.459,"d":0.456,"e":0.453,"f":0.45},
{"N":95,"a":0.465,"b":0.462,"c":0.489,"d":0.456,"e":0.483,"f":0.45},
{"N":96,"a":0.465,"b":0.462,"c":0.459,"d":0.486,"e":0.453,"f":0.45},
{"N":97,"a":0.465,"b":0.462,"c":0.459,"d":0.456,"e":0.453,"f":0.45},
{"N":98,"a":0.495,"b":0.462,"c":0.459,"d":0.456,"e":0.453,"f":0.45},
{"N":99,"a":0.465,"b":0.462,"c":0.459,"d":0.456,"e":0.453,"f":0.45},
{"N":100,"a":0.465,"b":0.462,"c":0.459,"d":0.456,"e":0.453,"f":0.45},
{"N":101,"a":0.465,"b":0.462,"c":0.459,"d":0.456,"e":0.453,"f":0.45},
{"N":102,"a":0.465,"b":0.462,"c":0.459,"d":0.456,"e":0.453,"f":0.45},
{"N":103,"a":0.465,"b":0.462,"c":0.459,"d":0.456,"e":0.453,"f":0.45},
{"N":104,"a":0.465,"b":0.462,"c":0.459,"d":0.456,"e":0.453,"f":0.45},
{"N":105,"a":0.465,"b":0.462,"c":0.459,"d":0.456,"e":0.453,"f":0.45},
{"N":106,"a":0.465,"b":0.462,"c":0.459,"d":0.456,"e":0.453,"f":0.45},
{"N":107,"a":0.465,"b":0.462,"c":0.459,"d":0.456,"e":0.453,"f":0.45},
{"N":108,"a":0.465,"b":0.462,"c":0.459,"d":0.456,"e":0.453,"f":0.45},
{"N":109,"a":0.465,"b":0.462,"c":0.459,"d":0.456,"e":0.453,"f":0.45},
{"N":110,"a":0.465,"b":0.462,"c":0.459,"d":0.456,"e":0.453,"f":0.45},
{"N":111,"a":0.465,"b":0.462,"c":0.459,"d":0.486,"e":0.453,"f":0.45},
{"N":112,"a":0.495,"b":0.492,"c":0.489,"d":0.486,"e":0.483,"f":0.45},
{"N":113,"a":0.495,"b":0.492,"c":0.489,"d":0.486,"e":0.483,"f":0.45},
{"N":114,"a":0.495,"b":0.492,"c":0.489,"d":0.486,"e":0.483,"f":0.48},
{"N":115,"a":0.495,"b":0.492,"c":0.489,"d":0.486,"e":0.483,"f":0.48},
{"N":116,"a":0.495,"b":0.492,"c":0.489,"d":0.486,"e":0.483,"f":0.48},
{"N":117,"a":0.495,"b":0.492,"c":0.489,"d":0.486,"e":0.483,"f":0.48},
{"N":118,"a":0.495,"b":0.492,"c":0.489,"d":0.486,"e":0.483,"f":0.48},
{"N":119,"a":0.495,"b":0.492,"c":0.489,"d":0.486,"e":0.483,"f":0.48},
{"N":120,"a":0.495,"b":0.492,"c":0.489,"d":0.486,"e":0.483,"f":0.48},
{"N":121,"a":0.495,"b":0.492,"c":0.489,"d":0.486,"e":0.483,"f":0.48},
{"N":122,"a":0.495,"b":0.492,"c":0.489,"d":0.486,"e":0.483,"f":0.48},
{"N":123,"a":0.465,"b":0.492,"c":0.489,"d":0.486,"e":0.483,"f":0.48},
{"N":124,"a":0.495,"b":0.492,"c":0.489,"d":0.486,"e":0.483,"f":0.48},
{"N":125,"a":0.495,"b":0.492,"c":0.489,"d":0.486,"e":0.483,"f":0.48},
{"N":126,"a":0.495,"b":0.492,"c":0.489,"d":0.486,"e":0.483,"f":0.48},
{"N":127,"a":0.495,"b":0.492,"c":0.489,"d":0.486,"e":0.483,"f":0.48},
{"N":128,"a":0.495,"b":0.492,"c":0.489,"d":0.486,"e":0.483,"f":0.45},
{"N":129,"a":0.495,"b":0.492,"c":0.489,"d":0.486,"e":0.483,"f":0.48},
{"N":130,"a":0.495,"b":0.492,"c":0.489,"d":0.486,"e":0.483,"f":0.48},
{"N":131,"a":0.495,"b":0.492,"c":0.489,"d":0.486,"e":0.483,"f":0.48},
{"N":132,"a":0.495,"b":0.492,"c":0.489,"d":0.486,"e":0.483,"f":0.48},
{"N":133,"a":0.495,"b":0.492,"c":0.489,"d":0.486,"e":0.483,"f":0.48},
{"N":134,"a":0.495,"b":0.492,"c":0.489,"d":0.486,"e":0.483,"f":0.48},
{"N":135,"a":0.495,"b":0.492,"c":0.489,"d":0.486,"e":0.483,"f":0.48},
{"N":136,"a":0.495,"b":0.492,"c":0.489,"d":0.486,"e":0.483,"f":0.48},
{"N":137,"a":0.495,"b":0.492,"c":0.489,"d":0.486,"e":0.483,"f":0.48},
{"N":138,"a":0.495,"b":0.492,"c":0.489,"d":0.486,"e":0.483,"f":0.48},
{"N":139,"a":0.495,"b":0.492,"c":0.489,"d":0.486,"e":0.483,"f":0.48},
{"N":140,"a":0.495,"b":0.492,"c":0.489,"d":0.486,"e":0.483,"f":0.48},
{"N":141,"a":0.495,"b":0.492,"c":0.489,"d":0.486,"e":0.483,"f":0.48},
{"N":142,"a":0.495,"b":0.492,"c":0.459,"d":0.486,"e":0.453,"f":0.48},
{"N":143,"a":0.495,"b":0.492,"c":0.459,"d":0.456,"e":0.453,"f":0.45},
{"N":144,"a":0.465,"b":0.492,"c":0.459,"d":0.456,"e":0.453,"f":0.48},
{"N":145,"a":0.465,"b":0.462,"c":0.489,"d":0.456,"e":0.483},
{"N":146,"a":0.495,"d":0.486,"f":0.45},
{"N":147,"a":0.465,"b":0.492,"c":0.489,"d":0.486,"e":0.453,"f":0.48},
{"N":148,"a":0.495,"b":0.492,"d":0.426,"e":0.453},
{"N":149,"a":0.465,"b":0.462,"c":0.459,"d":0.456,"e":0.453,"f":0.42},
{"N":150,"a":0.465,"b":0.462,"c":0.459,"d":0.456,"e":0.453,"f":0.45}
],
"nad":[
{"N":2,"e":0.483,"f":0.45},
{"N":3,"d":0.456,"e":0.453,"f":0.48},
{"N":4,"a":0.465,"b":0.462,"c":0.459,"d":0.486,"e":0.453,"f":0.42},
{"N":5,"a":0.465,"b":0.462,"c":0.459,"d":0.456,"e":0.483,"f":0.45},
{"N":6,"a":0.495,"b":0.462,"c":0.459,"d":0.486,"e":0.453,"f":0.42},
{"N":7,"a":0.495,"b":0.492,"c":0.459,"d":0.486,"e":0.483,"f":0.48},
{"N":8,"a":0.495,"b":0.462,"c":0.459,"d":0.486,"e":0.453,"f":0.48},
{"N":9,"a":0.465,"c":0.489,"d":0.486,"e":0.453,"f":0.48},
{"N":10,"a":0.465,"b":0.462,"c":0.459,"d":0.486,"e":0.453,"f":0.48},
{"N":11,"a":0.495,"b":0.492,"c":0.459,"d":0.486,"e":0.483,"f":0.48},
{"N":12,"a":0.495,"b":0.462,"c":0.459,"e":0.453},
{"N":13,"c":0.459,"d":0.486,"e":0.453,"f":0.42},
{"N":14,"a":0.495,"b":0.492,"c":0.489,"d":0.456,"e":0.453,"f":0.45},
{"N":15,"a":0.465,"b":0.462,"c":0.489,"d":0.456,"e":0.453,"f":0.45},
{"N":16,"a":0.465,"b":0.462,"c":0.489,"d":0.456,"e":0.483,"f":0.45},
{"N":17,"a":0.465,"b":0.462,"c":0.489,"d":0.456,"e":0.483,"f":0.45},
{"N":18,"a":0.465,"b":0.462,"c":0.459,"d":0.456,"e":0.453,"f":0.45},
{"N":19,"a":0.465,"b":0.462,"c":0.459,"d":0.456,"f":0.45},
{"N":20,"a":0.465,"b":0.462,"c":0.459,"d":0.486,"e":0.453,"f":0.45},
{"N":21,"a":0.465,"b":0.492,"c":0.459,"d":0.486,"e":0.483,"f":0.48},
{"N":22,"a":0.465,"b":0.492,"c":0.459,"d":0.486,"e":0.483,"f":0.48},
{"N":23,"a":0.495,"b":0.492,"c":0.459,"d":0.456,"e":0.453,"f":0.48},
{"N":24,"a":0.495,"b":0.462,"c":0.489,"d":0.456,"e":0.453},
{"N":25,"a":0.495,"b":0.462,"c":0.489,"d":0.456,"e":0.453,"f":0.45},
{"N":26,"a":0.465,"b":0.462,"c":0.489,"d":0.456,"e":0.453,"f":0.42},
{"N":27,"a":0.495,"b":0.462,"c":0.459,"d":0.456,"f":0.45},
{"N":28,"a":0.465,"b":0.492,"d":0.486,"e":0.453,"f":0.42},
{"N":29,"a":0.495,"b":0.492,"c":0.489,"d":0.486,"e":0.483,"f":0.45},
{"N":30,"a":0.495,"b":0.462,"c":0.459,"d":0.456,"e":0.483,"f":0.48},
{"N":31,"a":0.495,"b":0.462,"c":0.459,"d":0.456,"e":0.453,"f":0.45},
{"N":32,"a":0.465,"b":0.462,"c":0.489,"d":0.456,"e":0.453,"f":0.45},
{"N":33,"a":0.465,"b":0.462,"c":0.459,"d":0.456,"e":0.453},
{"N":34,"a":0.465,"b":0.462,"c":0.459,"e":0.453,"f":0.42},
{"N":35,"a":0.465,"b":0.462,"c":0.459,"d":0.456,"e":0.453,"f":0.45},
{"N":36,"b":0.462,"d":0.456,"e":0.453},
{"N":37,"b":0.492,"c":0.459,"d":0.486,"e":0.453,"f":0.45},
{"N":38,"a":0.495,"b":0.492,"c":0.459,"d":0.486,"e":0.483},
{"N":39,"a":0.495,"b":0.492,"c":0.459,"d":0.456,"e":0.483,"f":0.48},
{"N":40,"a":0.495,"b":0.462,"c":0.489,"d":0.486,"e":0.483,"f":0.48},
{"N":41,"a":0.495,"b":0.492,"c":0.459,"d":0.486,"e":0.483,"f":0.45},
{"N":42,"a":0.465,"b":0.492,"c":0.489,"d":0.456,"e":0.483,"f":0.48},
{"N":43,"a":0.495,"b":0.462,"c":0.489,"d":0.486,"e":0.483,"f":0.48},
{"N":44,"a":0.495,"b":0.462,"c":0.489,"d":0.486,"e":0.483,"f":0.48},
{"N":45,"a":0.495,"b":0.492,"c":0.489,"d":0.486,"e":0.483,"f":0.45},
{"N":46,"b":0.492,"c":0.489,"d":0.486,"e":0.483,"f":0.48},
{"N":47,"b":0.492,"c":0.489,"d":0.486,"e":0.453,"f":0.48},
{"N":48,"a":0.495,"b":0.492,"c":0.489,"d":0.486,"e":0.483,"f":0.48},
{"N":49,"a":0.465,"b":0.492,"c":0.489,"d":0.486,"e":0.483,"f":0.48},
{"N":50,"a":0.465,"b":0.462,"c":0.489,"d":0.486,"e":0.483,"f":0.48},
{"N":51,"a":0.495,"b":0.462,"c":0.489,"d":0.486,"e":0.483,"f":0.48},
{"N":52,"b":0.492,"c":0.489,"d":0.456,"e":0.453,"f":0.48},
{"N":53,"a":0.465,"b":0.492,"c":0.489,"d":0.486,"e":0.483,"f":0.48},
{"N":54,"a":0.465,"b":0.492,"c":0.489,"d":0.456,"e":0.483,"f":0.48},
{"N":55,"a":0.465,"b":0.462,"c":0.459,"d":0.456,"e":0.453,"f":0.42},
{"N":56,"a":0.465,"b":0.462,"c":0.459,"d":0.456,"e":0.453,"f":0.45},
{"N":57,"a":0.465,"b":0.462,"c":0.459,"d":0.456,"e":0.453,"f":0.45},
{"N":58,"a":0.465,"b":0.462,"c":0.459,"d":0.456,"e":0.453,"f":0.45},
{"N":59,"a":0.465,"b":0.462,"c":0.459,"d":0.456,"e":0.453,"f":0.45},
{"N":60,"a":0.465,"b":0.462,"c":0.459,"d":0.456,"e":0.453,"f":0.45},
{"N":61,"a":0.465,"b":0.462,"c":0.459,"d":0.456,"e":0.453,"f":0.45},
{"N":62,"a":0.465,"b":0.462,"c":0.459,"d":0.456,"e":0.453,"f":0.45},
{"N":63,"a":0.465,"b":0.462,"c":0.459,"d":0.456,"e":0.453,"f":0.45},
{"N":64,"a":0.465,"b":0.462,"c":0.459,"d":0.456,"e":0.453,"f":0.45},
{"N":65,"a":0.465,"b":0.462,"c":0.459,"d":0.456,"e":0.453,"f":0.45},
{"N":66,"a":0.465,"b":0.492,"c":0.459,"d":0.456,"e":0.453,"f":0.48},
{"N":67,"a":0.465,"b":0.462,"c":0.459,"d":0.456,"e":0.453,"f":0.48},
{"N":68,"a":0.465,"b":0.462,"c":0.459,"d":0.456,"e":0.453,"f":0.45},
{"N":69,"a":0.465,"b":0.462,"c":0.459,"d":0.456,"e":0.453,"f":0.45},
{"N":70,"a":0.465,"b":0.462,"c":0.459,"d":0.456,"e":0.453,"f":0.45},
{"N":71,"a":0.465,"b":0.462,"c":0.459,"d":0.456,"e":0.453,"f":0.45},
{"N":72,"a":0.465,"b":0.462,"c":0.459,"d":0.456,"e":0.453,"f":0.45},
{"N":73,"a":0.465,"b":0.462,"c":0.459,"d":0.456,"e":0.453,"f":0.45},
{"N":74,"a":0.465,"b":0.462,"c":0.459,"d":0.456,"e":0.453,"f":0.45},
{"N":75,"a":0.465,"b":0.462,"c":0.459,"d":0.486,"e":0.453,"f":0.48},
{"N":76,"a":0.495,"b":0.492,"c":0.489,"d":0.486,"e":0.453,"f":0.48},
{"N":77,"a":0.495,"b":0.492,"c":0.489,"d":0.486,"e":0.483,"f":0.45},
{"N":78,"a":0.495,"b":0.492,"c":0.489,"d":0.486,"e":0.483,"f":0.48},
{"N":79,"a":0.495,"b":0.492,"c":0.489,"d":0.486,"e":0.483,"f":0.48},
{"N":80,"a":0.495,"b":0.462,"c":0.489,"d":0.486,"e":0.483,"f":0.48},
{"N":81,"a":0.495,"b":0.492,"c":0.489,"d":0.486,"e":0.483,"f":0.48},
{"N":82,"a":0.495,"b":0.492,"c":0.489,"d":0.486,"e":0.483,"f":0.48},
{"N":83,"a":0.495,"b":0.492,"c":0.489,"d":0.486,"e":0.483,"f":0.48},
{"N":84,"a":0.495,"b":0.492,"c":0.489,"d":0.486,"e":0.483,"f":0.48},
{"N":85,"a":0.465,"b":0.462,"c":0.489,"d":0.486,"e":0.483,"f":0.48},
{"N":86,"a":0.495,"b":0.492,"c":0.489,"d":0.456,"e":0.453},
{"N":87,"a":0.465,"b":0.492,"c":0.459,"d":0.486,"e":0.453,"f":0.45},
{"N":88,"a":0.465,"b":0.462,"d":0.456,"e":0.483},
{"N":89,"a":0.495,"b":0.492,"c":0.489,"d":0.486,"e":0.483,"f":0.48},
{"N":90,"a":0.495,"b":0.492,"c":0.489,"d":0.486,"e":0.483,"f":0.48},
{"N":91,"a":0.465,"b":0.492,"c":0.459,"d":0.456,"e":0.453,"f":0.48},
{"N":92,"a":0.465,"b":0.462,"c":0.489,"d":0.456,"e":0.453,"f":0.42},
{"N":93,"a":0.465,"b":0.462,"c":0.459,"d":0.456,"e":0.453,"f":0.45},
{"N":94,"a":0.465,"b":0.462,"c":0.489,"d":0.486,"e":0.483,"f":0.48},
{"N":95,"a":0.495,"b":0.492,"c":0.459,"d":0.456,"e":0.453,"f":0.45},
{"N":96,"a":0.465,"b":0.462,"c":0.459,"d":0.456,"e":0.453,"f":0.45},
{"N":97,"a":0.465,"b":0.462,"c":0.459,"d":0.486,"e":0.453,"f":0.45},
{"N":98,"a":0.465,"b":0.462,"c":0.459,"d":0.456,"e":0.453,"f":0.45},
{"N":99,"a":0.465,"b":0.462,"c":0.459,"d":0.456,"e":0.453,"f":0.45},
{"N":100,"a":0.465,"b":0.462,"c":0.459,"d":0.456,"e":0.453,"f":0.45},
{"N":101,"a":0.465,"b":0.462,"c":0.459,"d":0.456,"e":0.453,"f":0.45},
{"N":102,"a":0.465,"b":0.462,"c":0.459,"d":0.456,"e":0.453,"f":0.45},
{"N":103,"a":0.465,"b":0.462,"c":0.459,"d":0.456,"e":0.453,"f":0.45},
{"N":104,"a":0.465,"b":0.462,"c":0.459,"d":0.456,"e":0.453,"f":0.45},
{"N":105,"a":0.465,"b":0.462,"c":0.459,"d":0.456,"e":0.453,"f":0.45},
{"N":106,"a":0.465,"b":0.462,"c":0.459,"d":0.456,"e":0.453,"f":0.45},
{"N":107,"a":0.465,"b":0.462,"c":0.459,"d":0.456,"e":0.453,"f":0.45},
{"N":108,"a":0.465,"b":0.462,"c":0.459,"d":0.456,"e":0.453,"f":0.45},
{"N":109,"a":0.465,"b":0.462,"c":0.489,"d":0.456,"e":0.453,"f":0.45},
{"N":110,"a":0.495,"b":0.462,"c":0.489,"d":0.456,"e":0.483,"f":0.48},
{"N":111,"a":0.495,"b":0.492,"c":0.489,"d":0.486,"e":0.483,"f":0.48},
{"N":112,"a":0.495,"b":0.492,"c":0.489,"d":0.486,"e":0.483,"f":0.48},
{"N":113,"a":0.495,"b":0.492,"c":0.489,"d":0.486,"e":0.483,"f":0.48},
{"N":114,"a":0.495,"b":0.492,"c":0.489,"d":0.486,"e":0.483,"f":0.48},
{"N":115,"a":0.495,"b":0.492,"c":0.489,"d":0.486,"e":0.483,"f":0.48},
{"N":116,"a":0.495,"b":0.492,"c":0.489,"d":0.486,"e":0.483,"f":0.48},
{"N":117,"a":0.495,"b":0.492,"c":0.489,"d":0.486,"e":0.483,"f":0.48},
{"N":118,"a":0.495,"b":0.492,"c":0.489,"d":0.486,"e":0.483,"f":0.48},
{"N":119,"a":0.495,"b":0.492,"c":0.489,"d":0.486,"e":0.483,"f":0.48},
{"N":120,"a":0.495,"b":0.492,"c":0.489,"d":0.456,"e":0.483,"f":0.48},
{"N":121,"a":0.495,"b":0.492,"c":0.489,"d":0.486,"e":0.483,"f":0.48},
{"N":122,"a":0.495,"b":0.492,"c":0.489,"d":0.486,"e":0.483,"f":0.48},
{"N":123,"a":0.495,"b":0.492,"c":0.489,"d":0.486,"e":0.483,"f":0.48},
{"N":124,"a":0.495,"b":0.492,"c":0.489,"d":0.486,"e":0.483,"f":0.48},
{"N":125,"a":0.495,"b":0.492,"c":0.489,"d":0.486,"e":0.483,"f":0.48},
{"N":126,"a":0.495,"b":0.492,"c":0.489,"d":0.486,"e":0.483,"f":0.48},
{"N":127,"a":0.495,"b":0.492,"c":0.489,"d":0.486,"e":0.483,"f":0.48},
{"N":128,"a":0.495,"b":0.492,"c":0.489,"d":0.486,"e":0.483,"f":0.48},
{"N":129,"a":0.495,"b":0.492,"c":0.489,"d":0.486,"e":0.483,"f":0.48},
{"N":130,"a":0.495,"b":0.492,"c":0.489,"d":0.486,"e":0.483,"f":0.48},
{"N":131,"a":0.495,"b":0.492,"c":0.489,"d":0.486,"e":0.483,"f":0.48},
{"N":132,"a":0.495,"b":0.492,"c":0.489,"d":0.486,"e":0.483,"f":0.48},
{"N":133,"a":0.495,"b":0.492,"c":0.489,"d":0.486,"e":0.483,"f":0.48},
{"N":134,"a":0.495,"b":0.492,"c":0.489,"d":0.486,"e":0.483,"f":0.48},
{"N":135,"a":0.495,"b":0.492,"c":0.489,"d":0.486,"e":0.483,"f":0.48},
{"N":136,"a":0.495,"b":0.492,"c":0.489,"d":0.486,"e":0.483,"f":0.48},
{"N":137,"a":0.495,"b":0.462,"c":0.459,"d":0.486,"e":0.483,"f":0.48},
{"N":138,"a":0.495,"b":0.462,"c":0.489,"d":0.486,"e":0.483,"f":0.48},
{"N":139,"a":0.495,"b":0.492,"c":0.489,"d":0.456,"e":0.483,"f":0.48},
{"N":140,"a":0.465,"b":0.492,"c":0.489,"d":0.456,"e":0.453,"f":0.48},
{"N":141,"b":0.492,"c":0.459,"d":0.456,"f":0.45},
{"N":142,"a":0.495,"b":0.462,"c":0.489,"d":0.456,"e":0.483,"f":0.45},
{"N":143,"a":0.465,"b":0.492,"c":0.459,"d":0.456,"f":0.45},
{"N":144,"a":0.495,"b":0.492,"c":0.489,"d":0.486,"e":0.483},
{"N":145,"a":0.465,"b":0.492,"c":0.459,"d":0.486,"e":0.423,"f":0.48},
{"N":146,"a":0.465,"b":0.492,"c":0.459,"d":0.486,"e":0.453,"f":0.42},
{"N":147,"a":0.465,"b":0.462,"c":0.459,"d":0.456,"e":0.453,"f":0.45},
{"N":148,"a":0.465,"b":0.462,"c":0.459,"d":0.456,"e":0.453,"f":0.45},
{"N":149,"a":0.465,"b":0.462,"c":0.459,"d":0.456,"e":0.453,"f":0.45},
{"N":150,"a":0.465,"b":0.462,"c":0.459,"d":0.456,"e":0.453,"f":0.45}
]
},
"columns":2,
"bounds":"flush",
"spacing":{"row":14,"column":138},
"concat":[
{"width":407,"height":203,"title":{"text":"Lithium","offset":32},
"resolve":{"axis":{"x":"independent","y":"independent"}},
"layer":[
{"data":{"name":"li"},"transform":[{"fold":["a","b","c","d","e"],"as":["k","v"]}],"mark":{"type":"line","color":"black","strokeWidth":1.1,"clip":true},
"encoding":{"x":{"field":"N","type":"quantitative","scale":{"domain":[0,150]},"axis":null},"y":{"field":"v","type":"quantitative","scale":{"domain":[0.349,0.823]},"axis":{"orient":"left","values":[0.4,0.6,0.8],"labels":true,"ticks":false,"format":"~g","title":"⟨Iαα/N⁵ᐟ³⟩","titlePadding":9}},"detail":{"field":"k"}}},
{"data":{"values":[{}]},"mark":{"type":"point","opacity":0},"encoding":{"x":{"datum":50,"type":"quantitative","scale":{"domain":[0,150]},"axis":{"orient":"bottom","values":[0,50,100,150],"title":null}},"y":{"datum":0.6,"type":"quantitative","scale":{"domain":[0.349,0.823]},"axis":{"orient":"left","values":[0.4,0.6,0.8],"title":null}}}},
{"data":{"values":[{}]},"mark":{"type":"point","opacity":0},"encoding":{"x":{"datum":50,"type":"quantitative","scale":{"domain":[0,150]},"axis":{"orient":"top","values":[0,50,100,150],"title":null}},"y":{"datum":0.6,"type":"quantitative","scale":{"domain":[0.349,0.823]},"axis":{"orient":"right","values":[0.4,0.6,0.8],"title":null}}}},
{"data":{"values":[{}]},"mark":{"type":"point","opacity":0},"encoding":{"x":{"datum":50,"type":"quantitative","scale":{"domain":[0,150]},"axis":{"orient":"bottom","values":[10,20,30,40,60,70,80,90,110,120,130,140],"title":null,"tickSize":-4,"tickWidth":1.5}},"y":{"datum":0.6,"type":"quantitative","scale":{"domain":[0.349,0.823]},"axis":{"orient":"left","values":[0.36,0.44,0.48,0.52,0.56,0.64,0.68,0.72,0.76],"title":null,"tickSize":-4,"tickWidth":1.5}}}},
{"data":{"values":[{}]},"mark":{"type":"point","opacity":0},"encoding":{"x":{"datum":50,"type":"quantitative","scale":{"domain":[0,150]},"axis":{"orient":"top","values":[10,20,30,40,60,70,80,90,110,120,130,140],"title":null,"tickSize":-4,"tickWidth":1.5}},"y":{"datum":0.6,"type":"quantitative","scale":{"domain":[0.349,0.823]},"axis":{"orient":"right","values":[0.36,0.44,0.48,0.52,0.56,0.64,0.68,0.72,0.76],"title":null,"tickSize":-4,"tickWidth":1.5}}}}
]},
{"width":411,"height":203,"title":{"text":"Sodium","offset":32},
"resolve":{"axis":{"x":"independent","y":"independent"}},
"layer":[
{"data":{"name":"na"},"transform":[{"fold":["a","b","c","d","e"],"as":["k","v"]}],"mark":{"type":"line","color":"black","strokeWidth":1.1,"clip":true},
"encoding":{"x":{"field":"N","type":"quantitative","scale":{"domain":[0,150]},"axis":null},"y":{"field":"v","type":"quantitative","scale":{"domain":[0.55,1.2267]},"axis":{"orient":"left","values":[0.6,0.8,1,1.2],"labels":true,"ticks":false,"format":"~g","title":"⟨Iαα/N⁵ᐟ³⟩","titlePadding":9}},"detail":{"field":"k"}}},
{"data":{"values":[{}]},"mark":{"type":"point","opacity":0},"encoding":{"x":{"datum":50,"type":"quantitative","scale":{"domain":[0,150]},"axis":{"orient":"bottom","values":[0,50,100,150],"title":null}},"y":{"datum":0.8,"type":"quantitative","scale":{"domain":[0.55,1.2267]},"axis":{"orient":"left","values":[0.6,0.8,1,1.2],"title":null}}}},
{"data":{"values":[{}]},"mark":{"type":"point","opacity":0},"encoding":{"x":{"datum":50,"type":"quantitative","scale":{"domain":[0,150]},"axis":{"orient":"top","values":[0,50,100,150],"title":null}},"y":{"datum":0.8,"type":"quantitative","scale":{"domain":[0.55,1.2267]},"axis":{"orient":"right","values":[0.6,0.8,1,1.2],"title":null}}}},
{"data":{"values":[{}]},"mark":{"type":"point","opacity":0},"encoding":{"x":{"datum":50,"type":"quantitative","scale":{"domain":[0,150]},"axis":{"orient":"bottom","values":[10,20,30,40,60,70,80,90,110,120,130,140],"title":null,"tickSize":-4,"tickWidth":1.5}},"y":{"datum":0.8,"type":"quantitative","scale":{"domain":[0.55,1.2267]},"axis":{"orient":"left","values":[0.6667,0.7333,0.8667,0.9333,1.0667,1.1333],"title":null,"tickSize":-4,"tickWidth":1.5}}}},
{"data":{"values":[{}]},"mark":{"type":"point","opacity":0},"encoding":{"x":{"datum":50,"type":"quantitative","scale":{"domain":[0,150]},"axis":{"orient":"top","values":[10,20,30,40,60,70,80,90,110,120,130,140],"title":null,"tickSize":-4,"tickWidth":1.5}},"y":{"datum":0.8,"type":"quantitative","scale":{"domain":[0.55,1.2267]},"axis":{"orient":"right","values":[0.6667,0.7333,0.8667,0.9333,1.0667,1.1333],"title":null,"tickSize":-4,"tickWidth":1.5}}}}
]},
{"width":407,"height":201,
"resolve":{"axis":{"x":"independent","y":"independent"}},
"layer":[
{"data":{"name":"lid"},"transform":[{"fold":["a","b","c","d","e","f"],"as":["k","v"]}],"mark":{"type":"circle","size":7,"color":"black","opacity":1},
"encoding":{"x":{"field":"N","type":"quantitative","scale":{"domain":[0,150]},"axis":null},"y":{"field":"v","type":"quantitative","scale":{"domain":[0.4,0.52]},"axis":{"orient":"left","values":[0.45,0.5],"labels":true,"ticks":false,"format":"~g","title":"Shape","titleFontSize":18,"titlePadding":5}}}},
{"data":{"values":[{}]},"mark":{"type":"point","opacity":0},"encoding":{"x":{"datum":50,"type":"quantitative","scale":{"domain":[0,150]},"axis":{"orient":"bottom","values":[0,50,100,150],"title":null}},"y":{"datum":0.45,"type":"quantitative","scale":{"domain":[0.4,0.52]},"axis":{"orient":"left","values":[0.45,0.5],"title":null}}}},
{"data":{"values":[{}]},"mark":{"type":"point","opacity":0},"encoding":{"x":{"datum":50,"type":"quantitative","scale":{"domain":[0,150]},"axis":{"orient":"top","values":[0,50,100,150],"title":null}},"y":{"datum":0.45,"type":"quantitative","scale":{"domain":[0.4,0.52]},"axis":{"orient":"right","values":[0.45,0.5],"title":null}}}},
{"data":{"values":[{}]},"mark":{"type":"point","opacity":0},"encoding":{"x":{"datum":50,"type":"quantitative","scale":{"domain":[0,150]},"axis":{"orient":"bottom","values":[10,20,30,40,60,70,80,90,110,120,130,140],"title":null,"tickSize":-4,"tickWidth":1.5}},"y":{"datum":0.45,"type":"quantitative","scale":{"domain":[0.4,0.52]},"axis":{"orient":"left","values":[0.41667,0.43333,0.46667,0.48333,0.51667],"title":null,"tickSize":-4,"tickWidth":1.5}}}},
{"data":{"values":[{}]},"mark":{"type":"point","opacity":0},"encoding":{"x":{"datum":50,"type":"quantitative","scale":{"domain":[0,150]},"axis":{"orient":"top","values":[10,20,30,40,60,70,80,90,110,120,130,140],"title":null,"tickSize":-4,"tickWidth":1.5}},"y":{"datum":0.45,"type":"quantitative","scale":{"domain":[0.4,0.52]},"axis":{"orient":"right","values":[0.41667,0.43333,0.46667,0.48333,0.51667],"title":null,"tickSize":-4,"tickWidth":1.5}}}}
]},
{"width":411,"height":201,
"resolve":{"axis":{"x":"independent","y":"independent"}},
"layer":[
{"data":{"name":"nad"},"transform":[{"fold":["a","b","c","d","e","f"],"as":["k","v"]}],"mark":{"type":"circle","size":7,"color":"black","opacity":1},
"encoding":{"x":{"field":"N","type":"quantitative","scale":{"domain":[0,150]},"axis":null},"y":{"field":"v","type":"quantitative","scale":{"domain":[0.4,0.52]},"axis":{"orient":"left","values":[0.45,0.5],"labels":true,"ticks":false,"format":"~g","title":"Shape","titleFontSize":18,"titlePadding":5}}}},
{"data":{"values":[{}]},"mark":{"type":"point","opacity":0},"encoding":{"x":{"datum":50,"type":"quantitative","scale":{"domain":[0,150]},"axis":{"orient":"bottom","values":[0,50,100,150],"title":null}},"y":{"datum":0.45,"type":"quantitative","scale":{"domain":[0.4,0.52]},"axis":{"orient":"left","values":[0.45,0.5],"title":null}}}},
{"data":{"values":[{}]},"mark":{"type":"point","opacity":0},"encoding":{"x":{"datum":50,"type":"quantitative","scale":{"domain":[0,150]},"axis":{"orient":"top","values":[0,50,100,150],"title":null}},"y":{"datum":0.45,"type":"quantitative","scale":{"domain":[0.4,0.52]},"axis":{"orient":"right","values":[0.45,0.5],"title":null}}}},
{"data":{"values":[{}]},"mark":{"type":"point","opacity":0},"encoding":{"x":{"datum":50,"type":"quantitative","scale":{"domain":[0,150]},"axis":{"orient":"bottom","values":[10,20,30,40,60,70,80,90,110,120,130,140],"title":null,"tickSize":-4,"tickWidth":1.5}},"y":{"datum":0.45,"type":"quantitative","scale":{"domain":[0.4,0.52]},"axis":{"orient":"left","values":[0.41667,0.43333,0.46667,0.48333,0.51667],"title":null,"tickSize":-4,"tickWidth":1.5}}}},
{"data":{"values":[{}]},"mark":{"type":"point","opacity":0},"encoding":{"x":{"datum":50,"type":"quantitative","scale":{"domain":[0,150]},"axis":{"orient":"top","values":[10,20,30,40,60,70,80,90,110,120,130,140],"title":null,"tickSize":-4,"tickWidth":1.5}},"y":{"datum":0.45,"type":"quantitative","scale":{"domain":[0.4,0.52]},"axis":{"orient":"right","values":[0.41667,0.43333,0.46667,0.48333,0.51667],"title":null,"tickSize":-4,"tickWidth":1.5}}}}
]},
{"width":407,"height":203,
"resolve":{"axis":{"x":"independent","y":"independent"}},
"layer":[
{"data":{"name":"li"},"transform":[{"fold":["p","q","r","s","t"],"as":["k","v"]}],"mark":{"type":"line","color":"black","strokeWidth":1.1,"clip":true},
"encoding":{"x":{"field":"N","type":"quantitative","scale":{"domain":[0,150]},"axis":{"orient":"bottom","values":[0,50,100,150],"labels":true,"ticks":false,"format":"d","title":"N","titleFontSize":18,"titlePadding":16}},"y":{"field":"v","type":"quantitative","scale":{"domain":[0,3.2]},"axis":{"orient":"left","values":[0,1,2,3],"labels":true,"ticks":false,"format":"~g","title":"ΔₘₐₓIαα/N⁵ᐟ³","titleFontSize":20,"titlePadding":9}},"detail":{"field":"k"}}},
{"data":{"values":[{}]},"mark":{"type":"point","opacity":0},"encoding":{"x":{"datum":50,"type":"quantitative","scale":{"domain":[0,150]},"axis":{"orient":"bottom","values":[0,50,100,150],"title":null}},"y":{"datum":1,"type":"quantitative","scale":{"domain":[0,3.2]},"axis":{"orient":"left","values":[0,1,2,3],"title":null}}}},
{"data":{"values":[{}]},"mark":{"type":"point","opacity":0},"encoding":{"x":{"datum":50,"type":"quantitative","scale":{"domain":[0,150]},"axis":{"orient":"top","values":[0,50,100,150],"title":null}},"y":{"datum":1,"type":"quantitative","scale":{"domain":[0,3.2]},"axis":{"orient":"right","values":[0,1,2,3],"title":null}}}},
{"data":{"values":[{}]},"mark":{"type":"point","opacity":0},"encoding":{"x":{"datum":50,"type":"quantitative","scale":{"domain":[0,150]},"axis":{"orient":"bottom","values":[10,20,30,40,60,70,80,90,110,120,130,140],"title":null,"tickSize":-4,"tickWidth":1.5}},"y":{"datum":1,"type":"quantitative","scale":{"domain":[0,3.2]},"axis":{"orient":"left","values":[0.2,0.4,0.6,0.8,1.2,1.4,1.6,1.8,2.2,2.4,2.6,2.8],"title":null,"tickSize":-4,"tickWidth":1.5}}}},
{"data":{"values":[{}]},"mark":{"type":"point","opacity":0},"encoding":{"x":{"datum":50,"type":"quantitative","scale":{"domain":[0,150]},"axis":{"orient":"top","values":[10,20,30,40,60,70,80,90,110,120,130,140],"title":null,"tickSize":-4,"tickWidth":1.5}},"y":{"datum":1,"type":"quantitative","scale":{"domain":[0,3.2]},"axis":{"orient":"right","values":[0.2,0.4,0.6,0.8,1.2,1.4,1.6,1.8,2.2,2.4,2.6,2.8],"title":null,"tickSize":-4,"tickWidth":1.5}}}},
{"data":{"values":[{}]},"mark":{"type":"rule","color":"red","strokeWidth":2,"strokeCap":"square"},"encoding":{"x":{"datum":-26.54,"type":"quantitative","scale":{"domain":[0,150]},"axis":null},"y":{"datum":10.956,"type":"quantitative","scale":{"domain":[0,3.2]},"axis":null},"y2":{"datum":-0.946}}},
{"data":{"values":[{}]},"mark":{"type":"rule","color":"red","strokeWidth":2,"strokeCap":"square"},"encoding":{"x":{"datum":158.48,"type":"quantitative","scale":{"domain":[0,150]},"axis":null},"y":{"datum":10.956,"type":"quantitative","scale":{"domain":[0,3.2]},"axis":null},"y2":{"datum":-0.946}}},
{"data":{"values":[{}]},"mark":{"type":"rule","color":"red","strokeWidth":2,"strokeCap":"square"},"encoding":{"x":{"datum":-26.54,"type":"quantitative","scale":{"domain":[0,150]},"axis":null},"x2":{"datum":158.48},"y":{"datum":10.956,"type":"quantitative","scale":{"domain":[0,3.2]},"axis":null}}}
]},
{"width":411,"height":203,
"resolve":{"axis":{"x":"independent","y":"independent"}},
"layer":[
{"data":{"name":"na"},"transform":[{"fold":["p","q","r","s","t"],"as":["k","v"]}],"mark":{"type":"line","color":"black","strokeWidth":1.1,"clip":true},
"encoding":{"x":{"field":"N","type":"quantitative","scale":{"domain":[0,150]},"axis":{"orient":"bottom","values":[0,50,100,150],"labels":true,"ticks":false,"format":"d","labelOffset":{"condition":{"test":"datum.value == 150","value":-3},"value":0},"title":"N","titleFontSize":18,"titlePadding":16}},"y":{"field":"v","type":"quantitative","scale":{"domain":[0,3.2]},"axis":{"orient":"left","values":[0,1,2,3],"labels":true,"ticks":false,"format":"~g","title":"ΔₘₐₓIαα/N⁵ᐟ³","titleFontSize":20,"titlePadding":9}},"detail":{"field":"k"}}},
{"data":{"values":[{}]},"mark":{"type":"point","opacity":0},"encoding":{"x":{"datum":50,"type":"quantitative","scale":{"domain":[0,150]},"axis":{"orient":"bottom","values":[0,50,100,150],"title":null}},"y":{"datum":1,"type":"quantitative","scale":{"domain":[0,3.2]},"axis":{"orient":"left","values":[0,1,2,3],"title":null}}}},
{"data":{"values":[{}]},"mark":{"type":"point","opacity":0},"encoding":{"x":{"datum":50,"type":"quantitative","scale":{"domain":[0,150]},"axis":{"orient":"top","values":[0,50,100,150],"title":null}},"y":{"datum":1,"type":"quantitative","scale":{"domain":[0,3.2]},"axis":{"orient":"right","values":[0,1,2,3],"title":null}}}},
{"data":{"values":[{}]},"mark":{"type":"point","opacity":0},"encoding":{"x":{"datum":50,"type":"quantitative","scale":{"domain":[0,150]},"axis":{"orient":"bottom","values":[10,20,30,40,60,70,80,90,110,120,130,140],"title":null,"tickSize":-4,"tickWidth":1.5}},"y":{"datum":1,"type":"quantitative","scale":{"domain":[0,3.2]},"axis":{"orient":"left","values":[0.3333,0.6667,1.3333,1.6667,2.3333,2.6667],"title":null,"tickSize":-4,"tickWidth":1.5}}}},
{"data":{"values":[{}]},"mark":{"type":"point","opacity":0},"encoding":{"x":{"datum":50,"type":"quantitative","scale":{"domain":[0,150]},"axis":{"orient":"top","values":[10,20,30,40,60,70,80,90,110,120,130,140],"title":null,"tickSize":-4,"tickWidth":1.5}},"y":{"datum":1,"type":"quantitative","scale":{"domain":[0,3.2]},"axis":{"orient":"right","values":[0.3333,0.6667,1.3333,1.6667,2.3333,2.6667],"title":null,"tickSize":-4,"tickWidth":1.5}}}},
{"data":{"values":[{}]},"mark":{"type":"rule","color":"red","strokeWidth":2,"strokeCap":"square"},"encoding":{"x":{"datum":-28.1,"type":"quantitative","scale":{"domain":[0,150]},"axis":null},"y":{"datum":10.956,"type":"quantitative","scale":{"domain":[0,3.2]},"axis":null},"y2":{"datum":-0.946}}},
{"data":{"values":[{}]},"mark":{"type":"rule","color":"red","strokeWidth":2,"strokeCap":"square"},"encoding":{"x":{"datum":-28.1,"type":"quantitative","scale":{"domain":[0,150]},"axis":null},"x2":{"datum":154.38},"y":{"datum":10.956,"type":"quantitative","scale":{"domain":[0,3.2]},"axis":null}}}
]}
]
}
